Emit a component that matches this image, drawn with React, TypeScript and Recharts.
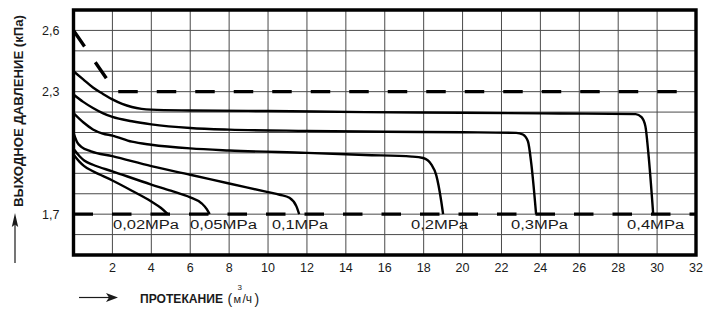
import React from 'react';
import { LineChart, Line, XAxis, YAxis, CartesianGrid, ReferenceArea, ReferenceDot } from 'recharts';

// ---- axis ticks & grid values ----
const xTicks = [2, 4, 6, 8, 10, 12, 14, 16, 18, 20, 22, 24, 26, 28, 30, 32];
const yTicks = [1.7, 2.3, 2.6];
const gridX = [2, 4, 6, 8, 10, 12, 14, 16, 18, 20, 22, 24, 26, 28, 30];
const gridY = [1.6, 1.7, 1.8, 1.9, 2.0, 2.1, 2.2, 2.3, 2.4, 2.5, 2.6];

// ---- series (flow m3/h -> outlet pressure kPa) ----
const seriesNames = ['0,02MPa', '0,05MPa', '0,1MPa', '0,2MPa', '0,3MPa', '0,4MPa'];

const flow002 = [0, 0.3, 0.55, 1, 2, 3, 4, 4.5, 4.85];
const pres002 = [1.992, 1.957, 1.935, 1.91, 1.865, 1.815, 1.762, 1.73, 1.7];

const flow005 = [0, 0.3, 0.55, 1, 2, 4, 5, 6, 6.6, 6.85, 7.0];
const pres005 = [2.02, 1.985, 1.963, 1.942, 1.91, 1.845, 1.815, 1.782, 1.752, 1.725, 1.7];

const flow01 = [0, 0.2, 0.4, 0.9, 2, 4, 6, 8, 10, 10.6, 11.1, 11.46, 11.6];
const pres01 = [2.098, 2.05, 2.03, 2.008, 1.984, 1.935, 1.893, 1.85, 1.808, 1.795, 1.78, 1.738, 1.7];

const flow02 = [0, 0.5, 1, 1.5, 2, 3, 4, 6, 8, 12, 15, 17.4, 17.97, 18.4, 18.65, 18.9, 19.0];
const pres02 = [2.195, 2.15, 2.115, 2.095, 2.085, 2.055, 2.04, 2.022, 2.012, 2.0, 1.99, 1.982, 1.975, 1.943, 1.89, 1.766, 1.7];

const flow03 = [0, 0.5, 1, 1.5, 2, 3, 4, 6, 8, 12, 16, 20, 22.76, 23.1, 23.36, 23.53, 23.78];
const pres03 = [2.286, 2.25, 2.22, 2.195, 2.176, 2.155, 2.14, 2.122, 2.114, 2.108, 2.104, 2.101, 2.098, 2.09, 2.057, 1.95, 1.7];

const flow04 = [0, 0.5, 1, 1.5, 2, 2.5, 3, 3.5, 4, 6, 10, 15, 20, 25, 28.9, 29.2, 29.4, 29.55, 29.8];
const pres04 = [2.4, 2.36, 2.32, 2.29, 2.262, 2.24, 2.225, 2.216, 2.212, 2.208, 2.205, 2.2, 2.197, 2.193, 2.19, 2.175, 2.13, 2.0, 1.7];

// ---- limit (dashed) lines ----
const upperFlow = [0, 2.16, 32];
const upperPres = [2.6, 2.3, 2.3];
const lowerFlow = [0, 32];
const lowerPres = [1.7, 1.7];

// ---- curve labels ----
const labelFlow = [2.03, 5.99, 10.2, 17.35, 22.49, 28.46];
const labelPressure = 1.645;

const zip = (xs: number[], ys: number[]) => xs.map((x, i) => ({ x, y: ys[i] }));

const curves = [
  zip(flow002, pres002),
  zip(flow005, pres005),
  zip(flow01, pres01),
  zip(flow02, pres02),
  zip(flow03, pres03),
  zip(flow04, pres04),
];
const upperLimit = zip(upperFlow, upperPres);
const lowerLimit = zip(lowerFlow, lowerPres);

// ---- styles ----
const FONT = '"Liberation Sans", Arial, Helvetica, sans-serif';
const labelTextLength = [66, 67, 56, 57, 57, 57];
const dash = '19.5 19';

export default function App() {
  return (
    <div style={{ position: 'absolute', left: 0, top: 0, width: 707, height: 311, background: '#fff' }}>
      <LineChart width={707} height={311} margin={{ top: 10, right: 11, bottom: 26, left: 13.5 }}>
        <CartesianGrid
          stroke="#4a4a4a"
          strokeWidth={1}
          verticalValues={gridX}
          horizontalValues={gridY}
        />
        <XAxis
          type="number"
          dataKey="x"
          domain={[0, 32]}
          ticks={xTicks}
          allowDataOverflow
          axisLine={false}
          tickLine={false}
          height={30}
          interval={0}
          tick={{ fontSize: 12.5, fill: '#1a1a1a', fontFamily: FONT }}
        />
        <YAxis
          type="number"
          dataKey="y"
          domain={[1.5, 2.7]}
          ticks={yTicks}
          allowDataOverflow
          axisLine={false}
          tickLine={false}
          width={60}
          tickMargin={8}
          interval={0}
          tickFormatter={(v: number) => v.toFixed(1).replace('.', ',')}
          tick={{ fontSize: 12.5, fill: '#1a1a1a', fontFamily: FONT }}
        />
        {curves.map((d, i) => (
          <Line
            key={seriesNames[i]}
            data={d}
            dataKey="y"
            type="monotone"
            stroke="#000"
            strokeWidth={2.4}
            dot={false}
            activeDot={false}
            isAnimationActive={false}
          />
        ))}
        <Line
          data={upperLimit}
          dataKey="y"
          type="linear"
          stroke="#000"
          strokeWidth={3.4}
          strokeDasharray={dash}
          dot={false}
          activeDot={false}
          isAnimationActive={false}
        />
        <Line
          data={lowerLimit}
          dataKey="y"
          type="linear"
          stroke="#000"
          strokeWidth={3.4}
          strokeDasharray={dash}
          dot={false}
          activeDot={false}
          isAnimationActive={false}
        />
        <ReferenceArea x1={0} x2={32} y1={1.5} y2={2.7} fill="none" stroke="#000" strokeWidth={3.4} />
        {seriesNames.map((name, i) => (
          <ReferenceDot
            key={'lbl' + name}
            x={labelFlow[i]}
            y={labelPressure}
            r={0}
            shape={(p: any) => (
              <text
                x={p.cx}
                y={p.cy}
                dominantBaseline="central"
                fontSize={12}
                fontFamily={FONT}
                fill="#1a1a1a"
                textLength={labelTextLength[i]}
                lengthAdjust="spacingAndGlyphs"
              >
                {name}
              </text>
            )}
          />
        ))}
      </LineChart>
      <svg
        width={707}
        height={311}
        style={{ position: 'absolute', left: 0, top: 0, pointerEvents: 'none' }}
      >
        <text
          x={18.5}
          y={111}
          transform="rotate(-90 18.5 111)"
          textAnchor="middle"
          dominantBaseline="central"
          fontSize={13}
          fontWeight="bold"
          fontFamily={FONT}
          fill="#1a1a1a"
          textLength={192}
          lengthAdjust="spacingAndGlyphs"
        >
          ВЫХОДНОЕ ДАВЛЕНИЕ (кПа)
        </text>
        <line x1={15} y1={263} x2={15} y2={222} stroke="#1a1a1a" strokeWidth={1.2} />
        <polygon points="15,213 11.8,227 15,224.5 18.2,227" fill="#1a1a1a" />
        <line x1={79} y1={297.5} x2={110} y2={297.5} stroke="#1a1a1a" strokeWidth={1.2} />
        <polygon points="118,297.5 106,293 109,297.5 106,302" fill="#1a1a1a" />
        <text x={140} y={303} fontSize={12} fontWeight="bold" fontFamily={FONT} fill="#1a1a1a" textLength={83} lengthAdjust="spacingAndGlyphs">
          ПРОТЕКАНИЕ
        </text>
        <text x={227.5} y={304} fontSize={14} fontFamily={FONT} fill="#1a1a1a">(</text>
        <text x={233.5} y={303} fontSize={11} fontFamily={FONT} fill="#1a1a1a">м</text>
        <text x={237.5} y={290} fontSize={8} fontFamily={FONT} fill="#1a1a1a">3</text>
        <text x={242.5} y={303} fontSize={12} fontFamily={FONT} fill="#1a1a1a">/ч</text>
        <text x={254.5} y={304} fontSize={14} fontFamily={FONT} fill="#1a1a1a">)</text>
      </svg>
    </div>
  );
}
